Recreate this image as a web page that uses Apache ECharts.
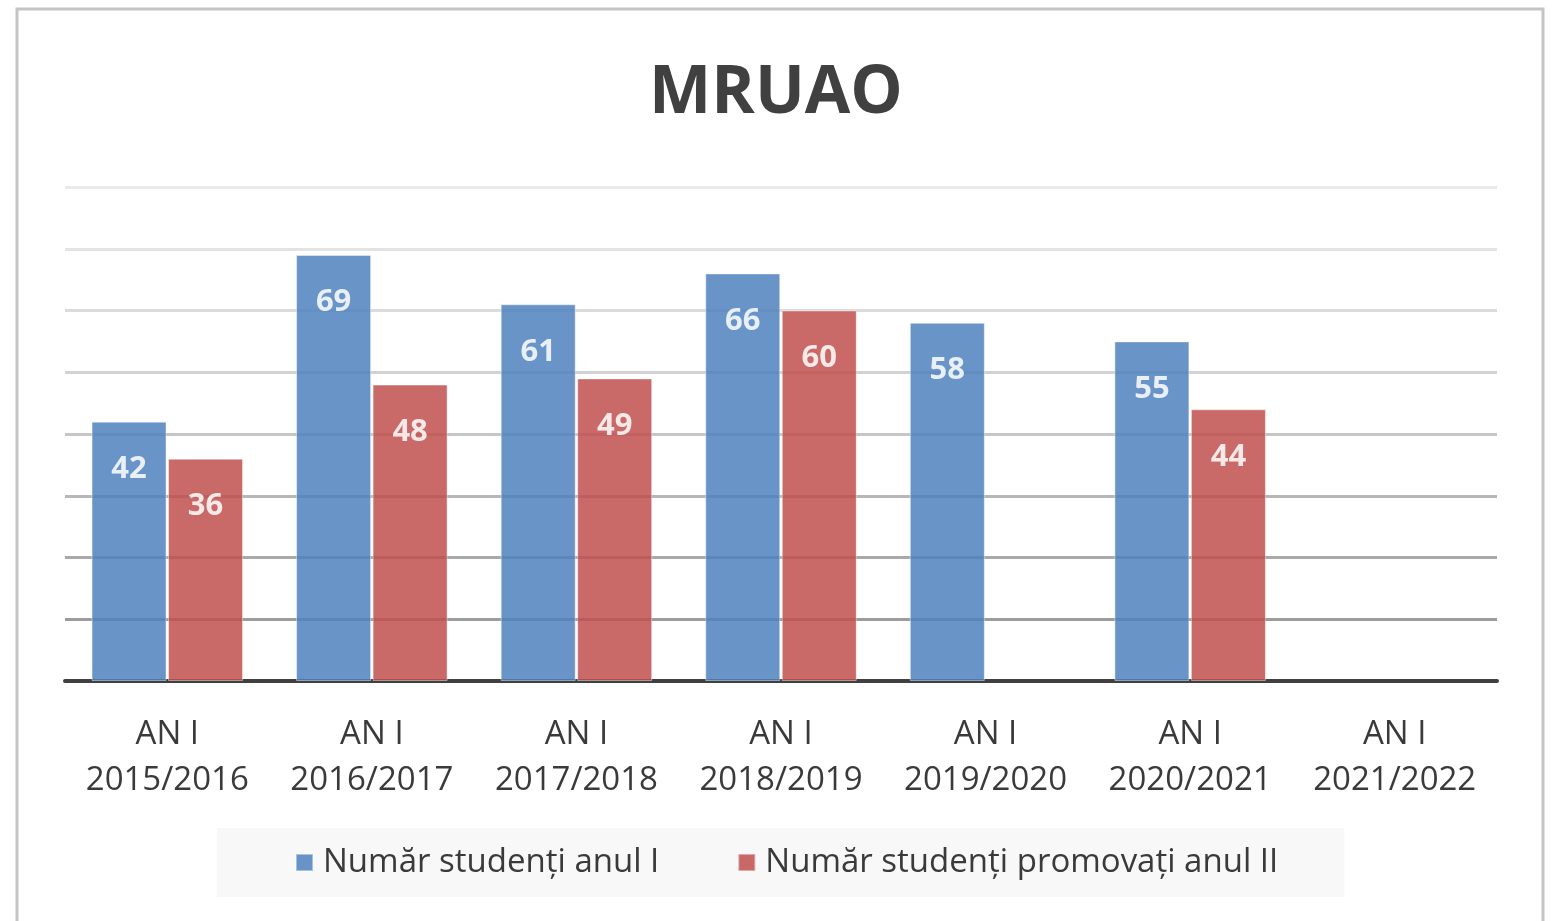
<!DOCTYPE html>
<html>
<head>
<meta charset="utf-8">
<script src="https://cdn.jsdelivr.net/npm/echarts@6/dist/echarts.min.js"></script>
<style>
  html, body { margin: 0; padding: 0; background: #fff; }
  #chart { width: 1552px; height: 921px; }
</style>
</head>
<body>
<div id="chart"></div>
<script>
var categories = ['AN I\n2015/2016', 'AN I\n2016/2017', 'AN I\n2017/2018', 'AN I\n2018/2019',
                  'AN I\n2019/2020', 'AN I\n2020/2021', 'AN I\n2021/2022'];
var anulI = [42, 69, 61, 66, 58, 55, null];
var promovatiII = [36, 48, 49, 60, null, 44, null];
var seriesNames = ['Număr studenți anul I', 'Număr studenți promovați anul II'];

var font = '"Open Sans", "Noto Sans", sans-serif';
var chart = echarts.init(document.getElementById('chart'));

var labelStyle = {
    show: true,
    position: 'insideTop',
    distance: 32,
    color: '#fff',
    fontFamily: font,
    fontWeight: 'bold',
    fontSize: 31
};

var option = {
    animation: false,
    backgroundColor: '#fff',
    title: {
        text: 'MRUAO',
        left: 'center',
        top: 56,
        textStyle: {
            fontFamily: font,
            fontWeight: 'bold',
            fontSize: 66,
            color: '#404040'
        }
    },
    legend: {
        data: seriesNames,
        left: 217,
        bottom: 24,
        backgroundColor: '#f8f8f8',
        padding: [18, 66, 18, 78],
        itemWidth: 17,
        itemHeight: 17,
        itemGap: 78,
        icon: 'rect',
        textStyle: {
            fontFamily: font,
            fontSize: 33,
            color: '#3a3a3a',
            padding: [0, 0, 0, 5]
        }
    },
    grid: {
        left: 65,
        right: 55,
        top: 187,
        bottom: 240,
        containLabel: false
    },
    xAxis: {
        type: 'category',
        data: categories,
        axisLine: { lineStyle: { color: '#404040', width: 4 } },
        axisTick: { show: false },
        axisLabel: {
            interval: 0,
            margin: 31,
            fontFamily: font,
            fontSize: 33,
            lineHeight: 46,
            color: '#3a3a3a'
        }
    },
    yAxis: {
        type: 'value',
        min: 0,
        max: 80,
        interval: 10,
        axisLabel: { show: false },
        axisLine: { show: false },
        axisTick: { show: false },
        splitLine: {
            lineStyle: {
                width: 3,
                color: ['#909090', '#9c9c9c', '#a9a9a9', '#b7b7b7', '#c6c6c6',
                        '#d2d2d2', '#dbdbdb', '#e3e3e3', '#eaeaea']
            }
        }
    },
    series: [
        {
            name: seriesNames[0],
            type: 'bar',
            data: anulI,
            barWidth: 75,
            barGap: '2%',
            z: 3,
            itemStyle: { color: '#4F81BD', opacity: 0.85, borderColor: 'rgba(255,255,255,0.5)', borderWidth: 1 },
            label: labelStyle
        },
        {
            name: seriesNames[1],
            type: 'bar',
            data: promovatiII,
            barWidth: 75,
            z: 3,
            itemStyle: { color: '#C0504D', opacity: 0.85, borderColor: 'rgba(255,255,255,0.5)', borderWidth: 1 },
            label: labelStyle
        }
    ],
    graphic: [
        {
            type: 'rect',
            shape: { x: 17, y: 9, width: 1526, height: 1000 },
            style: { fill: 'none', stroke: '#c4c4c4', lineWidth: 3 },
            silent: true
        }
    ]
};

chart.setOption(option);
</script>
</body>
</html>
